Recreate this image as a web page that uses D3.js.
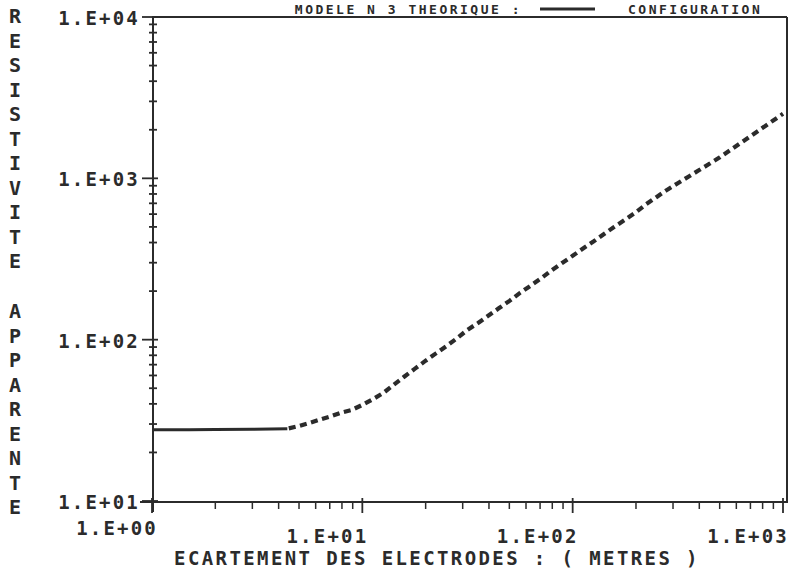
<!DOCTYPE html>
<html>
<head>
<meta charset="utf-8">
<script src="https://cdn.jsdelivr.net/npm/d3@7"></script>
<style>
  html, body { margin: 0; padding: 0; background: #fff; }
  svg { display: block; }
  text { font-family: "DejaVu Sans Mono", monospace; font-weight: bold; fill: #2b2b2b; }
</style>
</head>
<body>
<svg id="chart" width="796" height="575"></svg>
<script>
// Sounding curve: apparent resistivity vs. electrode spacing (log-log)
const flatSpacing = [1, 1.5, 2, 3, 4.4];
const flatRho     = [27.6, 27.6, 27.7, 27.8, 28.0];

const spacing = [4.47, 5.01, 5.62, 6.31, 7.08, 7.94, 8.91, 10, 11.2, 12.6, 14.1, 15.8, 17.8,
  20.0, 22.4, 25.1, 28.2, 31.6, 35.5, 39.8, 44.7, 50.1, 56.2, 63.1, 70.8, 79.4, 89.1, 100,
  112, 126, 141, 158, 178, 200, 224, 251, 282, 316, 355, 398, 447, 501, 562, 631, 708,
  794, 891, 1000];
const rho = [28.2, 29.2, 30.5, 32.0, 33.5, 35.3, 36.7, 39.4, 42.7, 46.8, 52.5, 58.9, 66.1,
  74.1, 82.2, 91.2, 102, 115, 127, 141, 157, 174, 195, 216, 240, 269, 299, 331,
  367, 407, 452, 501, 556, 617, 692, 767, 851, 933, 1023, 1122, 1230, 1349, 1496, 1660, 1841,
  2042, 2265, 2512];

const xTickValues = [1, 10, 100, 1000];
const xTickLabels = ["1.E+00", "1.E+01", "1.E+02", "1.E+03"];
const yTickValues = [10, 100, 1000, 10000];
const yTickLabels = ["1.E+01", "1.E+02", "1.E+03", "1.E+04"];

const titleLeft = "MODELE N 3 THEORIQUE :";
const titleRight = "CONFIGURATION";
const yTitleTop = "RESISTIVITE";
const yTitleBottom = "APPARENTE";
const xTitle = "ECARTEMENT DES ELECTRODES : ( METRES )";

const ink = "#2b2b2b";
const svg = d3.select("#chart");

const x = d3.scaleLog().domain([1, 1000]).range([152, 783]);
const y = d3.scaleLog().domain([10, 10000]).range([501, 17]);

const frameRight = 787;

// title line above the frame, with the curve's line sample
svg.append("text").attr("x", 522).attr("y", 14).attr("text-anchor", "end")
  .attr("font-size", 13).attr("letter-spacing", 2.5).text(titleLeft);
svg.append("line").attr("x1", 540).attr("x2", 595).attr("y1", 9).attr("y2", 9)
  .attr("stroke", ink).attr("stroke-width", 3);
svg.append("text").attr("x", 628).attr("y", 14)
  .attr("font-size", 13).attr("letter-spacing", 2.5).text(titleRight);

// frame
svg.append("line").attr("x1", 153).attr("x2", frameRight).attr("y1", 17).attr("y2", 17)
  .attr("stroke", ink).attr("stroke-width", 2);
svg.append("line").attr("x1", frameRight).attr("x2", frameRight).attr("y1", 17).attr("y2", 503)
  .attr("stroke", ink).attr("stroke-width", 2);

// x axis (ticks hang below the line)
const minorX = [];
for (let d = 1; d < 1000; d *= 10) for (let k = 2; k <= 9; k++) minorX.push(d * k);
svg.append("line").attr("x1", 140).attr("x2", frameRight).attr("y1", 502).attr("y2", 502)
  .attr("stroke", ink).attr("stroke-width", 2);
svg.selectAll(".xminor").data(minorX).join("line")
  .attr("x1", d => x(d)).attr("x2", d => x(d)).attr("y1", 502).attr("y2", 509)
  .attr("stroke", ink).attr("stroke-width", 1.5);
svg.selectAll(".xmajor").data(xTickValues).join("line")
  .attr("x1", d => x(d)).attr("x2", d => x(d)).attr("y1", 498).attr("y2", 513)
  .attr("stroke", ink).attr("stroke-width", 1.8);
svg.selectAll(".xlab").data(xTickValues).join("text")
  .attr("x", d => x(d) + 6).attr("y", (d, i) => i === 0 ? 528 : 536)
  .attr("dy", "0.36em").attr("text-anchor", "end")
  .attr("font-size", 19).attr("letter-spacing", 2.2)
  .text((d, i) => xTickLabels[i]);

// y axis (minor ticks straddle the line)
const minorY = [];
for (let d = 10; d < 10000; d *= 10) for (let k = 2; k <= 9; k++) minorY.push(d * k);
svg.append("line").attr("x1", 153).attr("x2", 153).attr("y1", 16).attr("y2", 512)
  .attr("stroke", ink).attr("stroke-width", 2);
svg.selectAll(".yminor").data(minorY).join("line")
  .attr("x1", 149).attr("x2", 157).attr("y1", d => y(d)).attr("y2", d => y(d))
  .attr("stroke", ink).attr("stroke-width", 1.8);
svg.selectAll(".ymajor").data(yTickValues).join("line")
  .attr("x1", 142).attr("x2", 158).attr("y1", d => y(d)).attr("y2", d => y(d))
  .attr("stroke", ink).attr("stroke-width", 1.8);
svg.selectAll(".ylab").data(yTickValues).join("text")
  .attr("x", 140).attr("y", d => y(d) + 1)
  .attr("dy", "0.36em").attr("text-anchor", "end")
  .attr("font-size", 19).attr("letter-spacing", 2.2)
  .text((d, i) => yTickLabels[i]);

// axis titles
svg.append("text").attr("x", 437).attr("y", 558).attr("dy", "0.36em")
  .attr("text-anchor", "middle").attr("font-size", 19).attr("letter-spacing", 2.4)
  .text(xTitle);
const stack = (str, y0) => svg.append("g").selectAll("text").data(str.split("")).join("text")
  .attr("x", 15).attr("y", (c, i) => y0 + i * 24.5).attr("dy", "0.36em")
  .attr("text-anchor", "middle").attr("font-size", 20).text(c => c);
stack(yTitleTop, 16);
stack(yTitleBottom, 311);

// curve
const line = d3.line().x(d => x(d[0])).y(d => y(d[1]));
svg.append("path").datum(d3.zip(flatSpacing, flatRho))
  .attr("d", line).attr("fill", "none").attr("stroke", ink).attr("stroke-width", 3);
svg.append("path").datum(d3.zip(spacing, rho))
  .attr("d", line).attr("fill", "none").attr("stroke", ink)
  .attr("stroke-width", 4.2).attr("stroke-dasharray", "7,4.5");
</script>
</body>
</html>
